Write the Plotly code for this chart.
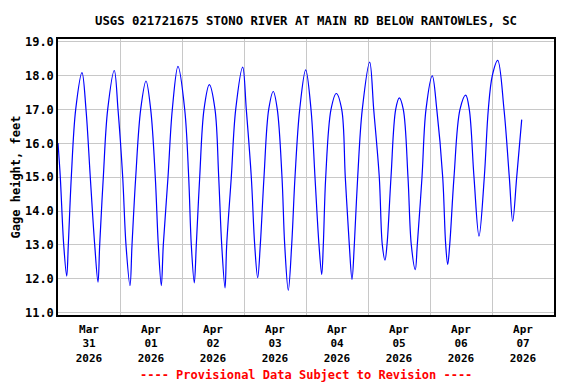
import pandas as pd
import plotly.graph_objects as go

# Hours after 2026-03-31 00:00 and gage height (feet)
hours = [0.0, 0.89, 2.21, 3.37, 3.99, 5.15, 6.85, 9.29, 10.84, 12.50, 14.21, 15.48,
         16.14, 17.54, 19.24, 21.79, 23.23, 25.05, 26.32, 27.87, 28.65, 30.08, 32.01,
         34.06, 35.88, 37.66, 38.83, 39.99, 40.76, 42.58, 44.25, 46.45, 49.05, 50.59,
         51.60, 52.76, 53.54, 54.85, 56.52, 58.57, 60.77, 62.21, 63.37, 64.65, 65.30,
         67.08, 68.79, 71.50, 72.89, 74.83, 76.14, 77.30, 78.31, 79.74, 81.56, 83.34,
         84.89, 86.71, 87.76, 89.15, 90.46, 91.74, 93.56, 95.88, 97.94, 99.48, 101.03,
         102.08, 102.70, 103.63, 105.68, 107.73, 109.82, 111.21, 112.76, 113.81, 114.70,
         116.01, 117.79, 120.66, 122.21, 124.37, 125.54, 126.58, 127.35, 128.90, 130.72,
         132.12, 133.66, 135.48, 136.76, 138.31, 139.08, 140.90, 142.45, 144.89, 146.63,
         148.92, 150.08, 150.85, 151.63, 153.29, 155.61, 157.82, 159.21, 161.03, 162.97,
         165.02, 166.57, 168.12, 170.21, 172.65, 174.70, 176.01, 177.56, 179.50]
gage_ft = [16.01, 15.0, 13.0, 12.08, 13.0, 15.0, 17.0, 18.09, 17.0, 15.0, 13.0, 11.90,
           13.0, 15.0, 17.0, 18.15, 17.0, 15.0, 13.0, 11.80, 13.0, 15.0, 17.0,
           17.84, 17.0, 15.0, 13.0, 11.80, 13.0, 15.0, 17.0, 18.27, 17.0, 15.0,
           13.0, 11.88, 13.0, 15.0, 17.0, 17.73, 17.0, 15.0, 13.0, 11.73, 13.0,
           15.0, 17.0, 18.25, 17.0, 15.0, 13.0, 12.03, 13.0, 15.0, 17.0, 17.53,
           17.0, 15.0, 13.0, 11.66, 13.0, 15.0, 17.0, 18.17, 17.0, 15.0, 13.0,
           12.13, 13.0, 15.0, 17.0, 17.47, 17.0, 15.0, 13.0, 11.98, 13.0,
           15.0, 17.0, 18.40, 17.0, 15.0, 13.0, 12.55, 13.0, 15.0, 17.0,
           17.34, 17.0, 15.0, 13.0, 12.27, 13.0, 15.0, 17.0, 17.99, 17.0,
           15.0, 13.0, 12.42, 13.0, 15.0, 17.0, 17.42, 17.0, 15.0, 13.26,
           15.0, 17.0, 18.0, 18.45, 17.0, 15.0, 13.70, 15.0, 16.70]

day_labels = ["Mar<br>31<br>2026", "Apr<br>01<br>2026", "Apr<br>02<br>2026", "Apr<br>03<br>2026",
              "Apr<br>04<br>2026", "Apr<br>05<br>2026", "Apr<br>06<br>2026", "Apr<br>07<br>2026"]
y_ticks = [11, 12, 13, 14, 15, 16, 17, 18, 19]

start = pd.Timestamp("2026-03-31 00:00")
times = [start + pd.Timedelta(hours=h) for h in hours]
noon_ticks = [start + pd.Timedelta(days=i, hours=12) for i in range(len(day_labels))]
midnight_ticks = [start + pd.Timedelta(days=i) for i in range(1, len(day_labels))]

FONT = "DejaVu Sans Mono"
OFF = 8  # page body margin offset
W, H = 576 - OFF, 384 - OFF

fig = go.Figure()
fig.add_trace(go.Scatter(x=times, y=gage_ft, mode="lines",
                         line=dict(color="#0000FF", width=1.2, shape="spline", smoothing=1.0),
                         showlegend=False, hoverinfo="skip"))

fig.update_layout(
    width=W, height=H,
    margin=dict(l=58 - OFF, r=22, t=39 - OFF, b=69, pad=0),
    paper_bgcolor="white", plot_bgcolor="white",
    title=dict(text="USGS 021721675 STONO RIVER AT MAIN RD BELOW RANTOWLES, SC",
               x=(306 - OFF) / W, xanchor="center", y=1 - (21 - OFF) / H, yanchor="middle",
               xref="container", yref="container",
               font=dict(family=FONT, size=12.3, color="black", weight="bold")),
    xaxis=dict(type="date", range=[start, start + pd.Timedelta(days=8)],
               tickmode="array", tickvals=noon_ticks, ticktext=day_labels,
               showgrid=False, ticks="outside", ticklen=3, tickcolor="rgba(0,0,0,0)",
               automargin=False,
               tickfont=dict(family=FONT, size=11, color="black", weight="bold"),
               minor=dict(tickmode="array", tickvals=midnight_ticks, showgrid=True,
                          gridcolor="#C8C8C8", gridwidth=1, ticks=""),
               showline=True, mirror=True, linecolor="black", linewidth=1.5,
               zeroline=False),
    yaxis=dict(range=[10.93, 19.08], tickmode="array", tickvals=y_ticks,
               ticktext=[f"{v:.1f}" for v in y_ticks], automargin=False,
               showgrid=True, gridcolor="#C8C8C8", gridwidth=1, ticks="",
               tickfont=dict(family=FONT, size=12, color="black", weight="bold"),
               title=dict(text="Gage height, feet", standoff=2,
                          font=dict(family=FONT, size=12, color="black", weight="bold")),
               showline=True, mirror=True, linecolor="black", linewidth=1.5,
               zeroline=False),
    annotations=[dict(text="---- Provisional Data Subject to Revision ----",
                      xref="paper", yref="paper", x=0.5, y=-(375 - 315) / 276,
                      xanchor="center", yanchor="middle", showarrow=False,
                      font=dict(family=FONT, size=12, color="#FF0000", weight="bold"))],
)

fig.write_html("out.html")
